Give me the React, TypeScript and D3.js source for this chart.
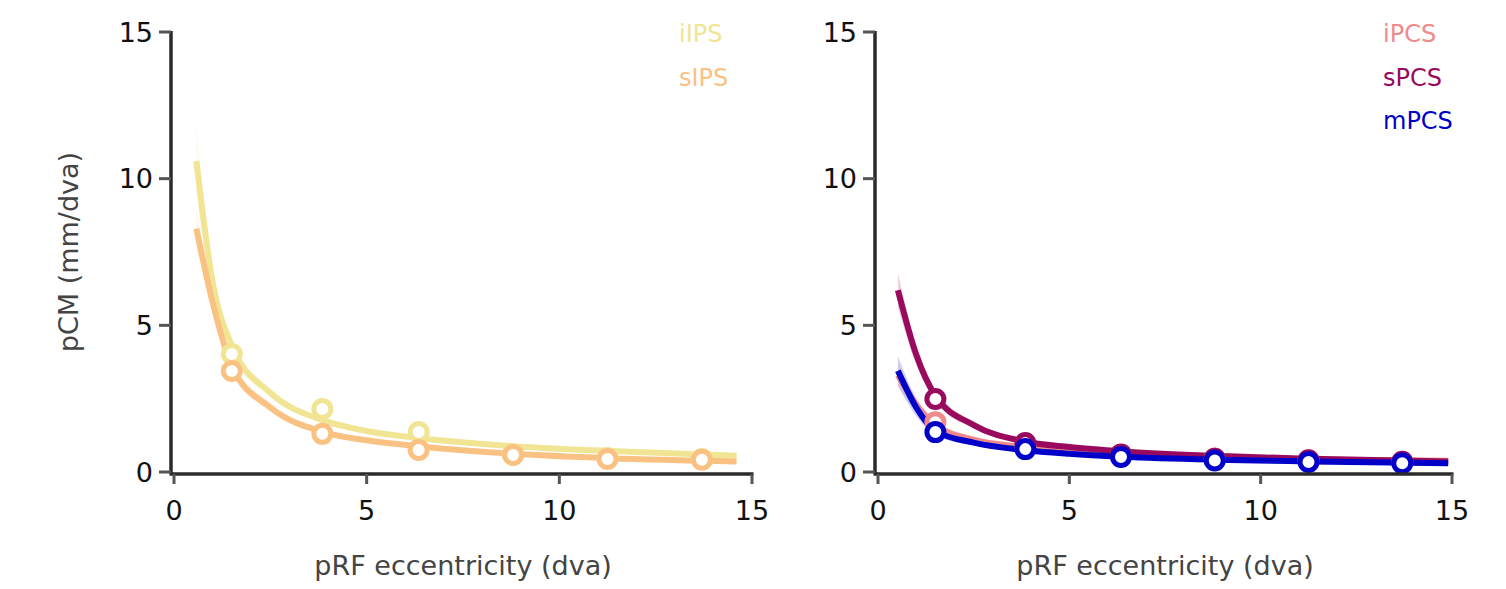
import React from "react";
import * as d3 from "d3";

// ---- data ----
const binX = [1.5, 3.85, 6.35, 8.8, 11.25, 13.7];

const fitXLeft = [0.58, 1.0, 1.5, 2.5, 3.9, 5.0, 6.4, 8.8, 11.3, 14.6];
const iIPSFit = [10.6, 6.5, 4.3, 2.7, 1.75, 1.4, 1.15, 0.88, 0.72, 0.55];
const iIPSCi = [1.2, 0.5, 0.3, 0.15, 0.1, 0.08, 0.06, 0.05, 0.05, 0.05];
const sIPSFit = [8.3, 5.8, 3.6, 2.2, 1.35, 1.08, 0.87, 0.62, 0.47, 0.36];
const sIPSCi = [0.6, 0.4, 0.25, 0.15, 0.1, 0.08, 0.06, 0.05, 0.05, 0.05];
const iIPSPts = [4.02, 2.15, 1.36, 0.6, 0.48, 0.44];
const sIPSPts = [3.44, 1.3, 0.75, 0.58, 0.44, 0.42];

const fitXRight = [0.52, 1.0, 1.5, 2.5, 3.8, 5.0, 6.4, 8.8, 11.3, 14.9];
const iPCSFit = [3.3, 2.3, 1.6, 1.1, 0.85, 0.7, 0.6, 0.5, 0.43, 0.38];
const iPCSCi = [0.4, 0.25, 0.15, 0.1, 0.08, 0.06, 0.05, 0.05, 0.05, 0.05];
const sPCSFit = [6.2, 4.0, 2.6, 1.6, 1.05, 0.85, 0.7, 0.55, 0.45, 0.36];
const sPCSCi = [0.6, 0.35, 0.2, 0.12, 0.08, 0.06, 0.05, 0.05, 0.05, 0.05];
const mPCSFit = [3.45, 2.2, 1.4, 1.0, 0.75, 0.62, 0.52, 0.42, 0.36, 0.3];
const mPCSCi = [0.5, 0.3, 0.15, 0.1, 0.08, 0.06, 0.05, 0.05, 0.05, 0.05];
const iPCSPts = [1.7, 0.9, 0.58, 0.46, 0.4, 0.35];
const sPCSPts = [2.49, 0.99, 0.6, 0.45, 0.4, 0.35];
const mPCSPts = [1.36, 0.78, 0.51, 0.39, 0.34, 0.3];

const tickVals = [0, 5, 10, 15];

const leftSeries = [
  { name: "iIPS", color: "#f1e594", fitX: fitXLeft, fit: iIPSFit, ci: iIPSCi, pts: iIPSPts },
  { name: "sIPS", color: "#f9c283", fitX: fitXLeft, fit: sIPSFit, ci: sIPSCi, pts: sIPSPts },
];
const rightSeries = [
  { name: "iPCS", color: "#f08a8a", fitX: fitXRight, fit: iPCSFit, ci: iPCSCi, pts: iPCSPts },
  { name: "sPCS", color: "#990a5e", fitX: fitXRight, fit: sPCSFit, ci: sPCSCi, pts: sPCSPts },
  { name: "mPCS", color: "#0000c8", fitX: fitXRight, fit: mPCSFit, ci: mPCSCi, pts: mPCSPts },
];

const FONT = "DejaVu Sans, Verdana, sans-serif";

function Panel({ x0, x1, series, showYTitle, legendX }) {
  const x = d3.scaleLinear().domain([0, 15]).range([x0, x1]);
  const y = d3.scaleLinear().domain([0, 15]).range([472, 32]);
  const axisLeftX = x0 - 3;
  return (
    <g>
      {series.map((s) => {
        const area = d3
          .area<number>()
          .curve(d3.curveMonotoneX)
          .x((_, i) => x(s.fitX[i]))
          .y0((v, i) => y(v - s.ci[i]))
          .y1((v, i) => y(v + s.ci[i]));
        return <path key={s.name + "b"} d={area(s.fit) || ""} fill={s.color} opacity={0.18} />;
      })}
      {series.map((s) => {
        const ln = d3
          .line<number>()
          .curve(d3.curveMonotoneX)
          .x((_, i) => x(s.fitX[i]))
          .y((v) => y(v));
        return (
          <path key={s.name + "l"} d={ln(s.fit) || ""} fill="none" stroke={s.color} strokeWidth={6} />
        );
      })}
      {series.map((s) =>
        s.pts.map((v, i) => (
          <circle
            key={s.name + "p" + i}
            cx={x(binX[i])}
            cy={y(v)}
            r={8.5}
            fill="#fff"
            stroke={s.color}
            strokeWidth={5}
          />
        ))
      )}
      <line x1={axisLeftX} x2={axisLeftX} y1={31} y2={474} stroke="#2a2a2a" strokeWidth={3.5} />
      <line x1={axisLeftX - 1.5} x2={x(15) + 1.5} y1={474} y2={474} stroke="#2a2a2a" strokeWidth={3.5} />
      {tickVals.map((t) => (
        <g key={"y" + t}>
          <line x1={axisLeftX - 12} x2={axisLeftX} y1={y(t)} y2={y(t)} stroke="#555" strokeWidth={3} />
          <text
            x={axisLeftX - 18}
            y={y(t)}
            textAnchor="end"
            dominantBaseline="central"
            fontFamily={FONT}
            fontSize={27}
            fill="#111"
          >
            {t}
          </text>
        </g>
      ))}
      {tickVals.map((t) => (
        <g key={"x" + t}>
          <line x1={x(t)} x2={x(t)} y1={474} y2={484} stroke="#555" strokeWidth={3} />
          <text
            x={x(t)}
            y={510}
            textAnchor="middle"
            dominantBaseline="central"
            fontFamily={FONT}
            fontSize={27}
            fill="#111"
          >
            {t}
          </text>
        </g>
      ))}
      <text
        x={(x0 + x1) / 2}
        y={565}
        textAnchor="middle"
        dominantBaseline="central"
        fontFamily={FONT}
        fontSize={27}
        fill="#444"
      >
        pRF eccentricity (dva)
      </text>
      {showYTitle && (
        <text
          transform={`translate(68,252) rotate(-90)`}
          textAnchor="middle"
          dominantBaseline="central"
          fontFamily={FONT}
          fontSize={27}
          fill="#444"
        >
          pCM (mm/dva)
        </text>
      )}
      {series.map((s, i) => (
        <text
          key={s.name + "t"}
          x={legendX}
          y={34 + i * 43.5}
          dominantBaseline="central"
          fontFamily={FONT}
          fontSize={24}
          fill={s.color}
        >
          {s.name}
        </text>
      ))}
    </g>
  );
}

export default function App() {
  return (
    <svg width={1506} height={589} style={{ position: "absolute", left: 0, top: 0 }}>
      <rect width={1506} height={589} fill="#fff" />
      <Panel x0={174} x1={752} series={leftSeries} showYTitle={true} legendX={679} />
      <Panel x0={878} x1={1452} series={rightSeries} showYTitle={false} legendX={1383} />
    </svg>
  );
}
